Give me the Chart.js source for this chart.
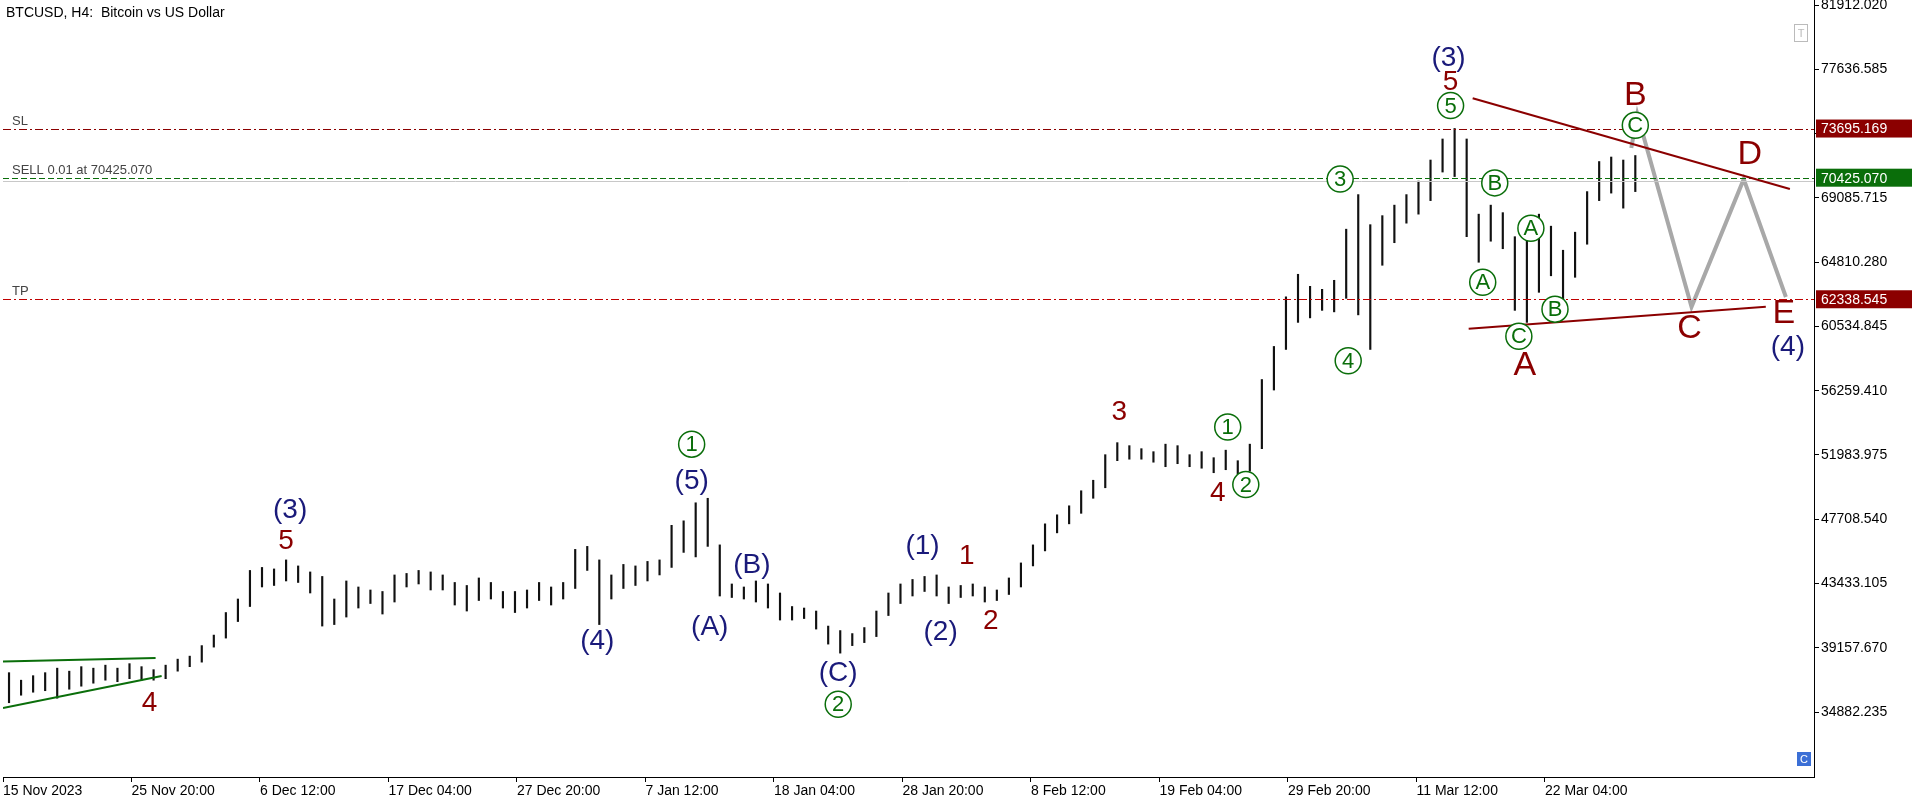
<!DOCTYPE html>
<html>
<head>
<meta charset="utf-8">
<script src="https://cdn.jsdelivr.net/npm/chart.js@4.4.1/dist/chart.umd.min.js"></script>
<style>
  html, body { margin: 0; padding: 0; background: #fff; }
  #wrap { width: 1916px; height: 800px; position: relative; }
</style>
</head>
<body>
<div id="wrap"><canvas id="chart" width="1916" height="800"></canvas></div>
<script>
'use strict';
// daily high / low (thousands of USD), one entry per day from 15 Nov 2023
const dayHigh = [37.5,37.0,37.3,37.5,37.8,37.6,37.9,37.8,38.0,37.8,38.1,37.9,37.7,38.0,38.4,38.6,39.3,40.0,41.5,42.4,
  44.3,44.5,44.4,45.0,44.6,44.2,43.9,42.4,43.6,43.2,43.0,42.9,44.0,44.1,44.3,44.2,44.0,43.5,43.3,43.8,
  43.5,42.9,42.9,43.0,43.5,43.2,43.5,45.7,45.9,45.0,44.0,44.7,44.6,44.9,45.0,47.3,47.6,48.8,49.1,46.0,
  43.4,43.2,43.6,43.4,42.8,41.9,41.8,41.6,40.6,40.3,40.1,40.5,41.6,42.8,43.4,43.7,43.9,44.0,43.2,43.3,
  43.4,43.2,43.0,43.8,44.8,46.0,47.4,48.0,48.6,49.6,50.3,52.0,52.8,52.6,52.4,52.2,52.7,52.6,52.0,52.2,
  51.8,52.3,51.6,52.7,57.0,59.2,62.5,64.0,63.2,63.0,63.6,67.0,69.3,67.3,67.9,68.6,69.3,70.2,71.6,73.0,
  73.7,73.0,68.0,68.6,68.1,66.5,66.2,68.0,67.2,65.6,66.8,69.5,71.5,71.8,71.6,71.9];
const dayLow = [35.5,36.0,36.2,36.3,35.8,36.4,36.6,36.8,37.0,36.9,37.1,37.0,37.0,37.1,37.6,37.9,38.2,39.2,39.8,40.9,
  41.9,43.2,43.3,43.6,43.5,42.8,40.6,40.7,41.2,41.8,42.1,41.4,42.2,43.2,43.4,43.0,43.0,42.0,41.6,42.3,
  42.4,41.8,41.5,41.8,42.3,42.0,42.4,43.1,44.3,40.7,42.4,43.1,43.3,43.6,44.0,44.5,45.5,45.2,45.9,42.6,
  42.5,42.4,42.2,41.8,41.0,41.0,41.1,40.4,39.4,38.8,39.3,39.5,39.9,41.3,42.1,42.6,42.9,42.6,42.1,42.5,
  42.6,42.2,42.3,42.7,43.2,44.6,45.6,46.8,47.4,48.1,49.1,49.8,51.6,51.7,51.7,51.5,51.2,51.4,51.2,51.1,
  50.8,51.0,50.7,50.9,52.4,56.3,59.0,60.8,61.1,61.6,61.5,62.4,61.3,59.0,64.6,66.1,67.4,68.0,68.9,70.8,
  70.5,66.5,64.8,66.2,65.7,61.6,60.8,62.8,63.9,62.3,63.8,66.0,68.9,69.4,68.4,69.5];

const timeLabels = ['15 Nov 2023','25 Nov 20:00','6 Dec 12:00','17 Dec 04:00','27 Dec 20:00','7 Jan 12:00',
  '18 Jan 04:00','28 Jan 20:00','8 Feb 12:00','19 Feb 04:00','29 Feb 20:00','11 Mar 12:00','22 Mar 04:00'];
const priceTicks = [81912.020,77636.585,73361.150,69085.715,64810.280,60534.845,56259.410,51983.975,47708.540,43433.105,39157.670,34882.235];

// forecast path (bar index, price)
const projX = [811, 814, 841, 867, 888];
const projY = [72400, 74650, 61840, 70330, 62490];

// trend lines: [x1, y1, x2, y2]
const trendLines = [
  [0, 38250, 76, 38480, '#0a6e0a'],
  [0, 35150, 79, 37280, '#0a6e0a'],
  [732, 75710, 890, 69670, '#8b0000'],
  [730, 60370, 878, 61840, '#8b0000']
];

const slPrice = 73695.169, entryPrice = 70425.070, tpPrice = 62338.545, bidPrice = 70230;

// wave labels: [x, price, text, kind]
const waveLabels = [
  [73, 35480, '4', 'red'],
  [143, 48290, '(3)', 'navy'], [141, 46250, '5', 'red'],
  [296, 39560, '(4)', 'navy'],
  [343, 52700, '1', 'circ'], [343, 50250, '(5)', 'navy'],
  [352, 40540, '(A)', 'navy'], [373, 44620, '(B)', 'navy'],
  [416, 37440, '(C)', 'navy'], [416, 35400, '2', 'circ'],
  [458, 45930, '(1)', 'navy'], [480, 45270, '1', 'red'],
  [467, 40210, '(2)', 'navy'], [492, 40950, '2', 'red'],
  [556, 54820, '3', 'red'],
  [605, 49440, '4', 'red'], [619, 50010, '2', 'circ'], [610, 53840, '1', 'circ'],
  [666, 70330, '3', 'circ'], [670, 58250, '4', 'circ'],
  [720, 78400, '(3)', 'navy'], [721, 76770, '5', 'red'], [721, 75220, '5', 'circ'],
  [743, 70080, 'B', 'circ'], [737, 63470, 'A', 'circ'], [761, 67060, 'A', 'circ'],
  [755, 59880, 'C', 'circ'], [758, 57920, 'A', 'big'], [773, 61680, 'B', 'circ'],
  [813, 75870, 'B', 'big'], [813, 73910, 'C', 'circ'],
  [870, 71960, 'D', 'big'], [840, 60370, 'C', 'big'], [887, 61350, 'E', 'big'], [889, 59150, '(4)', 'navy']
];

const FONT = '"Liberation Sans", Arial, sans-serif';
const barData = dayHigh.map((h, i) => ({x: i * 6 + 3, y: [dayLow[i] * 1000, h * 1000]}));

const overlayPlugin = {
  id: 'overlay',
  afterDatasetsDraw(chart){
    const ctx = chart.ctx, xs = chart.scales.x, ys = chart.scales.y, area = chart.chartArea;
    ctx.save();
    ctx.beginPath();
    ctx.rect(area.left, area.top, area.right - area.left, area.bottom - area.top);
    ctx.clip();

    const hLine = function(price, color, dash){
      const y = Math.round(ys.getPixelForValue(price)) + 0.5;
      ctx.strokeStyle = color;
      ctx.lineWidth = 1;
      ctx.setLineDash(dash);
      ctx.beginPath();
      ctx.moveTo(area.left, y);
      ctx.lineTo(area.right, y);
      ctx.stroke();
      return y;
    };
    hLine(bidPrice, '#c8c8c8', []);
    const ySl = hLine(slPrice, '#8b0000', [8, 3, 2, 3]);
    const yEn = hLine(entryPrice, '#0a6e0a', [6, 3]);
    const yTp = hLine(tpPrice, '#c00000', [8, 3, 2, 3]);
    ctx.setLineDash([]);
    ctx.fillStyle = '#444';
    ctx.font = '13px ' + FONT;
    ctx.textAlign = 'left';
    ctx.textBaseline = 'bottom';
    ctx.fillText('SL', 12, ySl - 2);
    ctx.fillText('SELL 0.01 at 70425.070', 12, yEn - 2);
    ctx.fillText('TP', 12, yTp - 2);

    trendLines.forEach(l => {
      ctx.strokeStyle = l[4];
      ctx.lineWidth = 2;
      ctx.beginPath();
      ctx.moveTo(xs.getPixelForValue(l[0]), ys.getPixelForValue(l[1]));
      ctx.lineTo(xs.getPixelForValue(l[2]), ys.getPixelForValue(l[3]));
      ctx.stroke();
    });

    waveLabels.forEach(w => {
      const x = xs.getPixelForValue(w[0]), y = ys.getPixelForValue(w[1]);
      ctx.textAlign = 'center';
      ctx.textBaseline = 'middle';
      if(w[3] === 'circ'){
        ctx.fillStyle = '#fff';
        ctx.strokeStyle = '#0a6e0a';
        ctx.lineWidth = 1.5;
        ctx.beginPath();
        ctx.arc(x, y, 13, 0, Math.PI * 2);
        ctx.fill();
        ctx.stroke();
        ctx.fillStyle = '#0a6e0a';
        ctx.font = '22px ' + FONT;
        ctx.fillText(w[2], x, y + 1);
      }else if(w[3] === 'navy'){
        ctx.fillStyle = '#1a1a7a';
        ctx.font = '28px ' + FONT;
        ctx.fillText(w[2], x, y);
      }else if(w[3] === 'big'){
        ctx.fillStyle = '#8b0000';
        ctx.font = '34px ' + FONT;
        ctx.fillText(w[2], x, y);
      }else{
        ctx.fillStyle = '#8b0000';
        ctx.font = '28px ' + FONT;
        ctx.fillText(w[2], x, y);
      }
    });
    ctx.restore();

    // title and small boxes
    ctx.save();
    ctx.fillStyle = '#000';
    ctx.font = '14px ' + FONT;
    ctx.textAlign = 'left';
    ctx.textBaseline = 'top';
    ctx.fillText('BTCUSD, H4:  Bitcoin vs US Dollar', 6, 6);
    ctx.strokeStyle = '#bbb';
    ctx.strokeRect(1794.5, 24.5, 13, 17);
    ctx.fillStyle = '#bbb';
    ctx.font = '11px ' + FONT;
    ctx.textAlign = 'center';
    ctx.fillText('T', 1801, 28);
    ctx.fillStyle = '#3b6fd6';
    ctx.fillRect(1797, 752, 14, 14);
    ctx.fillStyle = '#fff';
    ctx.fillText('C', 1804, 754);

    // price tags on axis
    const tag = function(price, bg){
      const y = ys.getPixelForValue(price);
      ctx.fillStyle = bg;
      ctx.fillRect(area.right + 2, y - 9, 96, 18);
      ctx.fillStyle = '#fff';
      ctx.font = '14px ' + FONT;
      ctx.textAlign = 'left';
      ctx.textBaseline = 'middle';
      ctx.fillText(price.toFixed(3), area.right + 7, y + 1);
    };
    tag(slPrice, '#8b0000');
    tag(entryPrice, '#0a6e0a');
    tag(tpPrice, '#8b0000');
    ctx.restore();
  }
};

new Chart(document.getElementById('chart').getContext('2d'), {
  type: 'bar',
  data: {
    datasets: [{
      type: 'bar',
      data: barData,
      backgroundColor: '#111',
      barThickness: 1.5,
      order: 2
    },{
      type: 'line',
      data: projX.map((x, i) => ({x: x, y: projY[i]})),
      borderColor: '#a8a8a8',
      borderWidth: 4,
      pointRadius: 0,
      tension: 0,
      order: 1
    }]
  },
  options: {
    responsive: false,
    animation: false,
    layout: {padding: {left: 3, top: 0, right: 0, bottom: 0}},
    plugins: {legend: {display: false}, tooltip: {enabled: false}},
    scales: {
      x: {
        type: 'linear',
        offset: false,
        min: 0,
        max: 902,
        afterBuildTicks(axis){
          axis.ticks = timeLabels.map((t, i) => ({value: i * 64}));
        },
        afterFit(axis){ axis.height = 23; },
        grid: {display: true, offset: false, drawOnChartArea: false, drawTicks: true, tickLength: 5, color: '#000'},
        border: {color: '#000', width: 1},
        ticks: {
          align: 'start',
          maxRotation: 0,
          autoSkip: false,
          padding: 1,
          color: '#000',
          font: {family: FONT, size: 14},
          callback: (v) => timeLabels[Math.round(v / 64)]
        }
      },
      y: {
        position: 'right',
        min: 30560,
        max: 82245,
        afterBuildTicks(axis){
          axis.ticks = priceTicks.map(p => ({value: p}));
        },
        afterFit(axis){
          axis.width = 102;
          axis.paddingTop = 0;
          axis.paddingBottom = 0;
        },
        grid: {display: true, drawOnChartArea: false, drawTicks: true, tickLength: 5, color: '#000'},
        border: {color: '#000', width: 1},
        ticks: {
          padding: 2,
          color: '#000',
          font: {family: FONT, size: 14},
          callback: (v) => v.toFixed(3)
        }
      }
    }
  },
  plugins: [overlayPlugin]
});
</script>
</body>
</html>
